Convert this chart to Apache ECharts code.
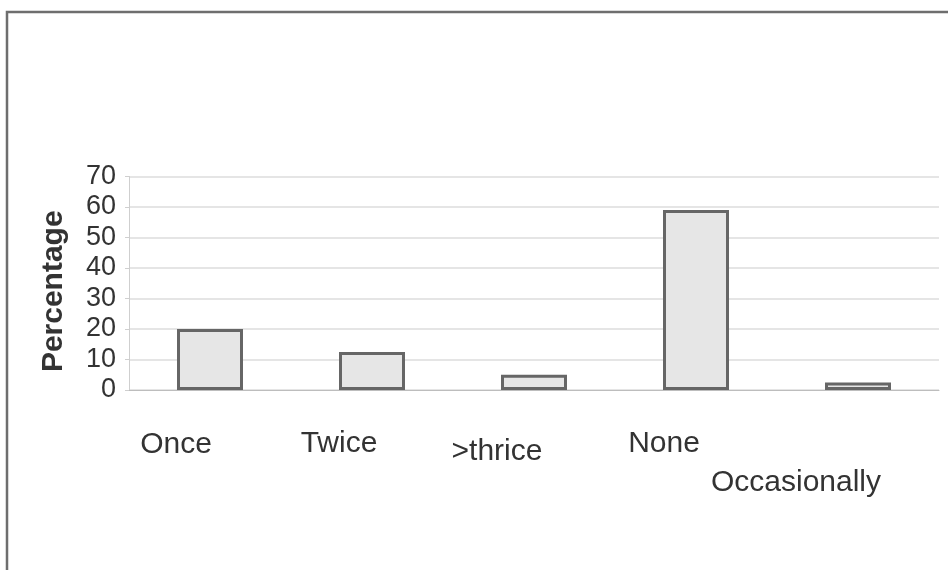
<!DOCTYPE html>
<html>
<head>
<meta charset="utf-8">
<script src="https://cdn.jsdelivr.net/npm/echarts@6/dist/echarts.min.js"></script>
<style>
  html, body { margin: 0; padding: 0; background: #ffffff; }
  #chart { width: 948px; height: 570px; }
</style>
</head>
<body>
<div id="chart"></div>
<script>
// Frequency categories and the share of respondents in each (percent)
const categories = ['Once', 'Twice', '>thrice', 'None', 'Occasionally'];
const percentages = [20, 12.5, 5, 59, 2.5];

// Value axis range and step
const yMin = 0;
const yMax = 70;
const yStep = 10;

// Per-label nudges [down, left] so the category names sit as in the layout
const labelNudges = [[1, 34], [0, 33], [8, 37], [0, 32], [39, 62]];

const chart = echarts.init(document.getElementById('chart'), null, { renderer: 'canvas' });

const axisData = categories.map((name, i) => ({
  value: name,
  textStyle: {
    padding: [Math.max(labelNudges[i][0], 0), labelNudges[i][1] * 2, 0, 0]
  }
}));

chart.setOption({
  backgroundColor: '#ffffff',
  animation: false,
  graphic: [{
    type: 'rect',
    shape: { x: 7, y: 12, width: 980, height: 620 },
    style: { fill: 'none', stroke: '#6e6e6e', lineWidth: 2.5 },
    silent: true
  }],
  grid: {
    left: 129,
    right: 9,
    top: 176.5,
    bottom: 180,
    containLabel: false,
    outerBoundsMode: 'none'
  },
  xAxis: {
    type: 'category',
    data: axisData,
    axisLine: { show: true, lineStyle: { color: '#bdbdbd', width: 1 } },
    axisTick: { show: false },
    axisLabel: {
      interval: 0,
      margin: 39,
      fontFamily: 'Liberation Sans, Arial, sans-serif',
      fontSize: 30,
      color: '#333333',
      hideOverlap: false
    }
  },
  yAxis: {
    type: 'value',
    min: yMin,
    max: yMax,
    interval: yStep,
    name: 'Percentage',
    nameLocation: 'middle',
    nameGap: 60,
    nameTextStyle: {
      fontFamily: 'Liberation Sans, Arial, sans-serif',
      fontSize: 30,
      fontWeight: 'bold',
      color: '#333333',
      padding: [0, 16, 0, 0]
    },
    axisLine: { show: true, lineStyle: { color: '#cfcfcf', width: 1 } },
    axisTick: { show: true, length: 4, lineStyle: { color: '#cfcfcf' } },
    axisLabel: {
      margin: 13,
      fontFamily: 'Liberation Sans, Arial, sans-serif',
      fontSize: 27,
      color: '#333333'
    },
    splitLine: { show: true, lineStyle: { color: '#dcdcdc', width: 1.5 } }
  },
  series: [{
    type: 'bar',
    data: percentages,
    barWidth: 66,
    itemStyle: {
      color: '#e6e6e6',
      borderColor: '#666666',
      borderWidth: 3
    }
  }]
});
</script>
</body>
</html>
